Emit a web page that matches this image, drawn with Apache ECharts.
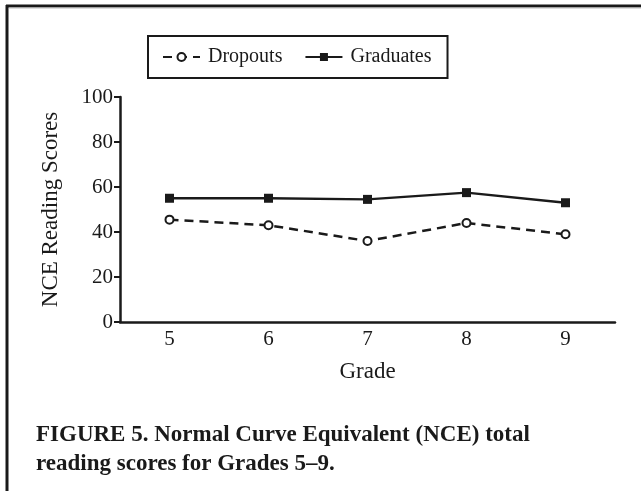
<!DOCTYPE html>
<html>
<head>
<meta charset="utf-8">
<script src="https://cdn.jsdelivr.net/npm/echarts@6/dist/echarts.min.js"></script>
<style>
  html, body { margin: 0; padding: 0; background: #fff; }
  #chart { width: 641px; height: 491px; }
</style>
</head>
<body>
<div id="chart"></div>
<script>
// data
var grades = ['5', '6', '7', '8', '9'];
var dropouts = [45.5, 43, 36, 44, 39];
var graduates = [55, 55, 54.5, 57.5, 53];
var yTicks = [0, 20, 40, 60, 80, 100];

var serif = '"Liberation Serif", "DejaVu Serif", serif';
var ink = '#1a1a1a';

var chartDom = document.getElementById('chart');
var myChart = echarts.init(chartDom);

var option = {
  animation: false,
  backgroundColor: '#fff',
  textStyle: { fontFamily: serif, color: ink },
  grid: { left: 120, right: 26, top: 97, bottom: 169 },
  legend: {
    left: 148,
    top: 36,
    padding: [11, 16, 11, 14],
    borderColor: ink,
    borderWidth: 2,
    itemGap: 22,
    itemWidth: 37,
    itemHeight: 10,
    textStyle: { fontFamily: serif, fontSize: 20, color: ink, padding: [0, 0, 0, 3] },
    data: ['Dropouts', 'Graduates']
  },
  xAxis: {
    type: 'category',
    data: grades,
    boundaryGap: true,
    name: 'Grade',
    nameLocation: 'middle',
    nameGap: 38,
    nameTextStyle: { fontFamily: serif, fontSize: 23, color: ink },
    axisLine: { lineStyle: { color: ink, width: 2.5 } },
    axisTick: { show: false },
    axisLabel: { fontFamily: serif, fontSize: 21, color: ink, margin: 7 }
  },
  yAxis: {
    type: 'value',
    min: 0,
    max: 100,
    interval: 20,
    name: 'NCE Reading Scores',
    nameLocation: 'middle',
    nameGap: 58,
    nameTextStyle: { fontFamily: serif, fontSize: 23, color: ink },
    axisLine: { show: true, lineStyle: { color: ink, width: 2.5 } },
    axisTick: { show: true, length: 6, lineStyle: { color: ink, width: 2 } },
    splitLine: { show: false },
    axisLabel: {
      fontFamily: serif, fontSize: 21, color: ink, margin: 7,
      formatter: function (v) { return yTicks.indexOf(v) >= 0 ? String(v) : ''; }
    }
  },
  series: [
    {
      name: 'Dropouts',
      type: 'line',
      data: dropouts,
      symbol: 'emptyCircle',
      symbolSize: 8,
      color: ink,
      itemStyle: { color: ink, borderColor: ink, borderWidth: 2.5 },
      lineStyle: { color: ink, width: 2.5, type: [9, 6] }
    },
    {
      name: 'Graduates',
      type: 'line',
      data: graduates,
      symbol: 'rect',
      symbolSize: 9,
      color: ink,
      itemStyle: { color: ink },
      lineStyle: { color: ink, width: 2.5 }
    }
  ],
  graphic: [
    // page frame (left + top edges)
    { type: 'line', shape: { x1: 7, y1: 5, x2: 7, y2: 491 }, style: { stroke: ink, lineWidth: 3 } },
    { type: 'line', shape: { x1: 6, y1: 6, x2: 641, y2: 6 }, style: { stroke: ink, lineWidth: 3 } },
    { type: 'line', shape: { x1: 9, y1: 8, x2: 641, y2: 8 }, style: { stroke: '#bbb', lineWidth: 1 } },
    {
      type: 'text',
      left: 36,
      top: 421,
      style: {
        text: 'FIGURE 5. Normal Curve Equivalent (NCE) total\nreading scores for Grades 5\u20139.',
        fontFamily: serif,
        fontSize: 23,
        fontWeight: 'bold',
        lineHeight: 29,
        fill: ink
      }
    }
  ]
};

option && myChart.setOption(option);
</script>
</body>
</html>
